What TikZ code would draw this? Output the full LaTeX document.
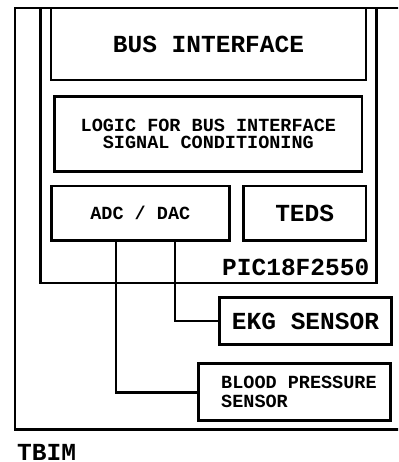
\documentclass[tikz,border=0pt]{standalone}
\usepackage{fontspec}
\newfontfamily\monob{Liberation Mono}[BoldFont={Liberation Mono Bold}]
\begin{document}
\begin{tikzpicture}[x=1pt,y=-1pt,
  box/.style={draw, line width=2.7pt, inner sep=0pt, font=\monob\bfseries},
  big/.style={font=\monob\bfseries\fontsize{24.5}{26}\selectfont},
  small/.style={font=\monob\bfseries\fontsize{18.5}{17}\selectfont},
  wire/.style={line width=2.7pt}]
\useasboundingbox (0,0) rectangle (398,462);
\clip (0,0) rectangle (398,462);
\node[box, minimum width=405pt, minimum height=421.3pt] (tbim) at (217.5,218.65) {};
\node[box, minimum width=336pt, minimum height=275pt] (pic) at (208.35,145.5) {};
\node[box, big, minimum width=315pt, minimum height=72pt] (bus) at (208.5,44) {BUS INTERFACE};
\node[box, small, align=center, minimum width=307.3pt, minimum height=75pt] (logic) at (208.35,133.8) {LOGIC FOR BUS INTERFACE\\SIGNAL CONDITIONING};
\node[box, small, minimum width=178pt, minimum height=54.7pt] (adc) at (140.3,213.35) {ADC / DAC};
\node[box, big, minimum width=122.7pt, minimum height=54.7pt] (teds) at (304.65,213.35) {TEDS};
\node[big, anchor=west, inner sep=0pt] (piclbl) at (222,267) {PIC18F2550};
\node[box, big, minimum width=171.7pt, minimum height=46.6pt] (ekg) at (305.5,321) {EKG SENSOR};
\node[box, minimum width=192.4pt, minimum height=57pt] (bp) at (294.5,392.2) {};
\node[small, font=\monob\bfseries\fontsize{18.5}{19}\selectfont, align=left, anchor=west, inner sep=0pt] (bplbl) at (221,392.2) {BLOOD PRESSURE\\SENSOR};
\node[big, anchor=base west, inner sep=0pt, text height=16pt, text depth=0pt] (tbimlbl) at (17,460) {TBIM};
\draw[wire] ([xshift=-24.3pt]adc.south) |- (bp.west);
\draw[wire] ([xshift=34.7pt]adc.south) |- (ekg.west);
\end{tikzpicture}
\end{document}
